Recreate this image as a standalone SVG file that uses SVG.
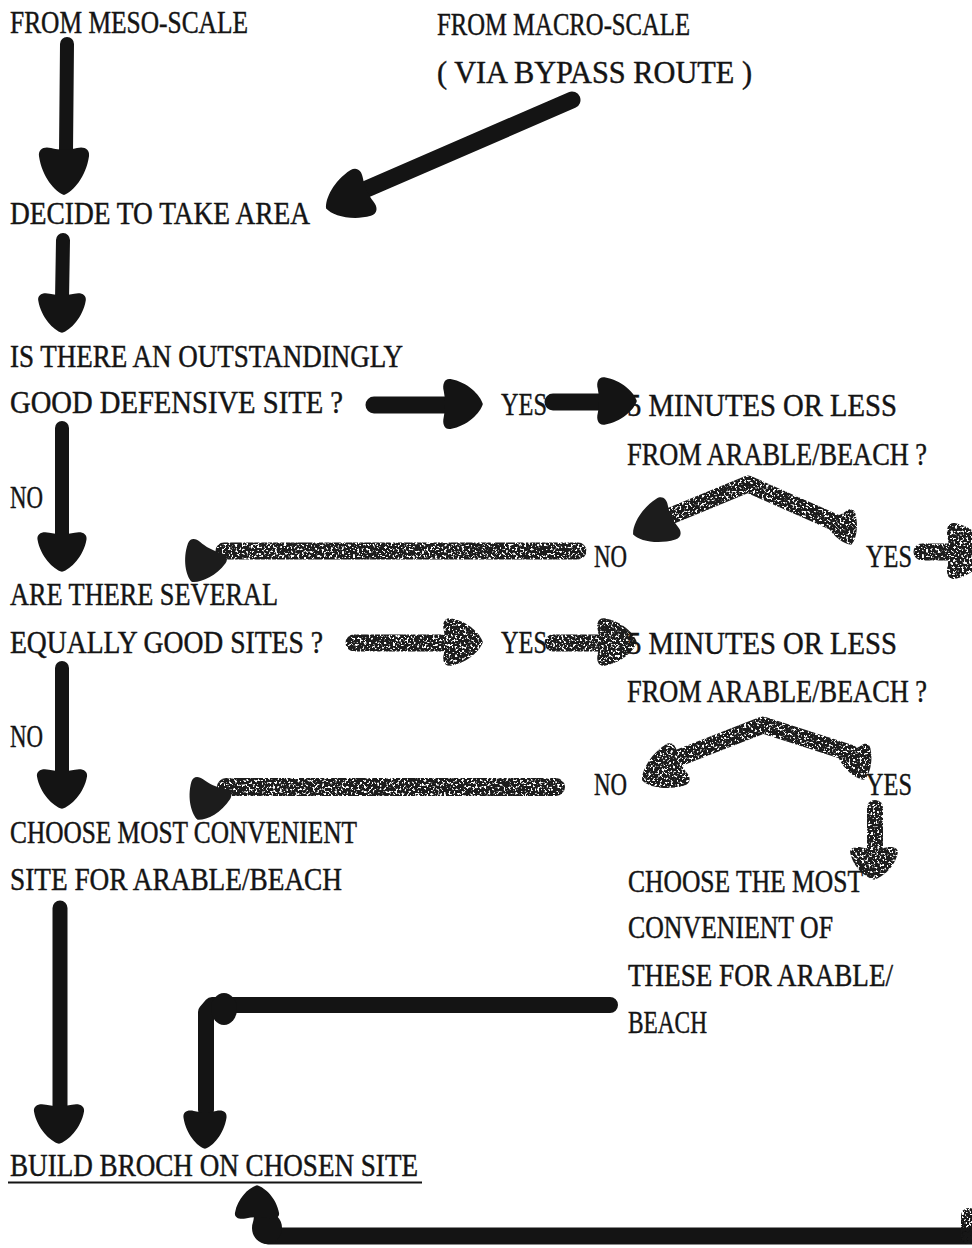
<svg xmlns="http://www.w3.org/2000/svg" width="972" height="1248" viewBox="0 0 972 1248">
  <style>
    .t { font-family: "Liberation Serif", "DejaVu Serif", serif; font-size: 31.5px; fill: #141414; stroke: #141414; stroke-width: 0.45px; }
    .shaft { fill: none; stroke: #141414; stroke-linecap: round; stroke-linejoin: round; }
    .solid { fill: #141414; }
    .grainy .shaft { stroke: #1c1c1c; }
    .grainy .solid { fill: #1c1c1c; }
  </style>
  <defs>
    <!-- marker-pen arrowhead pointing along +x, tip at the origin -->
    <path id="head" d="M 1,0 C -2,-9 -17,-22 -37,-25 C -44,-26 -47,-20 -45,-13 C -43,-5 -43,5 -45,13 C -47,20 -44,26 -37,25 C -17,22 -2,9 1,0 Z"/>
    <!-- speckled, dry-ink texture for the lighter strokes -->
    <filter id="grain" filterUnits="userSpaceOnUse" x="0" y="0" width="972" height="1248">
      <feTurbulence type="fractalNoise" baseFrequency="0.45" numOctaves="2" seed="7" result="noise"/>
      <feColorMatrix in="noise" type="matrix" values="0 0 0 0 0  0 0 0 0 0  0 0 0 0 0  -10 0 0 0 6.5" result="speck"/>
      <feComposite in="SourceGraphic" in2="speck" operator="in"/>
    </filter>
  </defs>

  <rect width="972" height="1248" fill="#ffffff"/>

  <!-- connectors -->
  <g id="connectors">
    <g id="arrow-meso-decide">
      <path class="shaft" stroke-width="14" d="M 67,44 L 66,152"/>
      <use href="#head" class="solid" transform="translate(64,194) rotate(90) scale(1.02,1)"/>
    </g>
    <g id="arrow-macro-decide">
      <path class="shaft" stroke-width="17" d="M 572,100 L 362,191"/>
      <use href="#head" class="solid" transform="translate(327,208) rotate(156)"/>
    </g>
    <g id="arrow-decide-outstanding">
      <path class="shaft" stroke-width="14" d="M 63,240 L 62,300"/>
      <use href="#head" class="solid" transform="translate(62,332) rotate(90) scale(0.85,0.95)"/>
    </g>
    <g id="arrow-defensive-yes">
      <path class="shaft" stroke-width="17" d="M 374,405 L 450,405"/>
      <use href="#head" class="solid" transform="translate(482,404) rotate(0) scale(0.85,1)"/>
    </g>
    <g id="arrow-yes-minutes1">
      <path class="shaft" stroke-width="17" d="M 553,402 L 600,402"/>
      <use href="#head" class="solid" transform="translate(636,401) rotate(0) scale(0.85,0.95)"/>
    </g>
    <g id="arrow-defensive-no">
      <path class="shaft" stroke-width="14" d="M 62,428 L 62,535"/>
      <use href="#head" class="solid" transform="translate(62,571) rotate(90) scale(0.85,0.98)"/>
    </g>
    <g id="arrow-minutes1-branch" class="grainy">
      <g filter="url(#grain)">
        <path class="shaft" stroke-width="17" d="M 668,517 L 748,484 L 836,523"/>
        <use href="#head" class="solid" transform="translate(851,544) rotate(68) scale(0.72,0.62)"/>
      </g>
      <use href="#head" class="solid" transform="translate(634,534) rotate(155) scale(0.95,0.9)"/>
    </g>
    <g id="arrow-no1-several" class="grainy">
      <g filter="url(#grain)">
        <path class="shaft" stroke-width="17" d="M 578,551 L 224,551"/>
      </g>
      <use href="#head" class="solid" transform="translate(192,581) rotate(118) scale(0.85,0.85)"/>
    </g>
    <g id="arrow-yes1-out" class="grainy">
      <g filter="url(#grain)">
        <path class="shaft" stroke-width="17" d="M 922,552 L 955,552"/>
        <use href="#head" class="solid" transform="translate(988,551) rotate(0) scale(0.9,1.12)"/>
      </g>
    </g>
    <g id="arrow-equally-yes" class="grainy">
      <g filter="url(#grain)">
        <path class="shaft" stroke-width="17" d="M 354,643 L 446,643"/>
        <use href="#head" class="solid" transform="translate(482,642) rotate(0) scale(0.85,0.95)"/>
      </g>
    </g>
    <g id="arrow-yes-minutes2" class="grainy">
      <g filter="url(#grain)">
        <path class="shaft" stroke-width="17" d="M 553,643 L 600,643"/>
        <use href="#head" class="solid" transform="translate(636,642) rotate(0) scale(0.85,0.95)"/>
      </g>
    </g>
    <g id="arrow-equally-no">
      <path class="shaft" stroke-width="14" d="M 62,668 L 62,772"/>
      <use href="#head" class="solid" transform="translate(62,808) rotate(90) scale(0.85,1)"/>
    </g>
    <g id="arrow-minutes2-branch" class="grainy">
      <g filter="url(#grain)">
        <path class="shaft" stroke-width="17" d="M 676,759 L 763,725 L 850,753"/>
        <use href="#head" class="solid" transform="translate(864,779) rotate(70) scale(0.72,0.66)"/>
        <use href="#head" class="solid" transform="translate(643,780) rotate(155) scale(0.95,0.9)"/>
      </g>
    </g>
    <g id="arrow-no2-choose" class="grainy">
      <g filter="url(#grain)">
        <path class="shaft" stroke-width="18" d="M 556,787 L 226,787"/>
      </g>
      <use href="#head" class="solid" transform="translate(198,819) rotate(114) scale(0.85,0.85)"/>
    </g>
    <g id="arrow-yes2-choose-the-most" class="grainy">
      <g filter="url(#grain)">
        <path class="shaft" stroke-width="16" d="M 875,808 L 875,850"/>
        <use href="#head" class="solid" transform="translate(874,879) rotate(90) scale(0.7,0.95)"/>
      </g>
    </g>
    <g id="arrow-site-build">
      <path class="shaft" stroke-width="15" d="M 60,908 L 60,1106"/>
      <use href="#head" class="solid" transform="translate(59,1143) rotate(90) scale(0.85,1)"/>
    </g>
    <g id="arrow-these-build">
      <path class="shaft" stroke-width="16" d="M 610,1005 L 212,1005 L 206,1012 L 206,1110"/>
      <ellipse class="solid" cx="224" cy="1009" rx="13" ry="16"/>
      <use href="#head" class="solid" transform="translate(205,1148) rotate(90) scale(0.82,0.86)"/>
    </g>
    <g id="arrow-return-build">
      <path class="shaft" stroke-width="17" d="M 972,1236 L 268,1236 L 262,1230 L 262,1220"/>
      <ellipse class="solid" cx="267" cy="1228" rx="15" ry="16"/>
      <use href="#head" class="solid" transform="translate(257,1186) rotate(-90) scale(0.72,0.88)"/>
      <g filter="url(#grain)">
        <rect class="solid" x="961" y="1208" width="16" height="36" rx="8"/>
      </g>
    </g>
  </g>

  <!-- nodes -->
  <g id="node-meso"><text class="t" x="10" y="33" textLength="238" lengthAdjust="spacingAndGlyphs">FROM MESO-SCALE</text></g>
  <g id="node-macro">
    <text class="t" x="437" y="35" textLength="253" lengthAdjust="spacingAndGlyphs">FROM MACRO-SCALE</text>
    <text class="t" x="437" y="83" textLength="315" lengthAdjust="spacingAndGlyphs">( VIA BYPASS ROUTE )</text>
  </g>
  <g id="node-decide"><text class="t" x="10" y="224" textLength="300" lengthAdjust="spacingAndGlyphs">DECIDE TO TAKE AREA</text></g>
  <g id="node-outstanding">
    <text class="t" x="10" y="367" textLength="393" lengthAdjust="spacingAndGlyphs">IS THERE AN OUTSTANDINGLY</text>
    <text class="t" x="10" y="413" textLength="333" lengthAdjust="spacingAndGlyphs">GOOD DEFENSIVE SITE ?</text>
  </g>
  <g id="label-yes1"><text class="t" x="501" y="415" textLength="46" lengthAdjust="spacingAndGlyphs">YES</text></g>
  <g id="node-minutes1">
    <text class="t" x="627" y="416" textLength="270" lengthAdjust="spacingAndGlyphs">5 MINUTES OR LESS</text>
    <!-- narrow line: set in a horizontally condensed frame so it stays inside the page -->
    <text class="t" transform="translate(627,465) scale(0.8,1)" x="0" y="0" textLength="375" lengthAdjust="spacingAndGlyphs">FROM ARABLE/BEACH ?</text>
  </g>
  <g id="label-no1"><text class="t" x="10" y="508" textLength="33" lengthAdjust="spacingAndGlyphs">NO</text></g>
  <g id="label-no1b"><text class="t" x="594" y="567" textLength="33" lengthAdjust="spacingAndGlyphs">NO</text></g>
  <g id="label-yes1b"><text class="t" x="866" y="567" textLength="46" lengthAdjust="spacingAndGlyphs">YES</text></g>
  <g id="node-several">
    <text class="t" x="10" y="605" textLength="268" lengthAdjust="spacingAndGlyphs">ARE THERE SEVERAL</text>
    <text class="t" x="10" y="653" textLength="313" lengthAdjust="spacingAndGlyphs">EQUALLY GOOD SITES ?</text>
  </g>
  <g id="label-yes2"><text class="t" x="501" y="653" textLength="46" lengthAdjust="spacingAndGlyphs">YES</text></g>
  <g id="node-minutes2">
    <text class="t" x="627" y="654" textLength="270" lengthAdjust="spacingAndGlyphs">5 MINUTES OR LESS</text>
    <text class="t" transform="translate(627,702) scale(0.8,1)" x="0" y="0" textLength="375" lengthAdjust="spacingAndGlyphs">FROM ARABLE/BEACH ?</text>
  </g>
  <g id="label-no2"><text class="t" x="10" y="747" textLength="33" lengthAdjust="spacingAndGlyphs">NO</text></g>
  <g id="label-no2b"><text class="t" x="594" y="795" textLength="33" lengthAdjust="spacingAndGlyphs">NO</text></g>
  <g id="label-yes2b"><text class="t" x="866" y="795" textLength="46" lengthAdjust="spacingAndGlyphs">YES</text></g>
  <g id="node-choose-most">
    <text class="t" x="10" y="843" textLength="347" lengthAdjust="spacingAndGlyphs">CHOOSE MOST CONVENIENT</text>
    <text class="t" x="10" y="890" textLength="332" lengthAdjust="spacingAndGlyphs">SITE FOR ARABLE/BEACH</text>
  </g>
  <g id="node-choose-the-most">
    <text class="t" x="628" y="892" textLength="235" lengthAdjust="spacingAndGlyphs">CHOOSE THE MOST</text>
    <text class="t" x="628" y="938" textLength="205" lengthAdjust="spacingAndGlyphs">CONVENIENT OF</text>
    <text class="t" x="628" y="986" textLength="265" lengthAdjust="spacingAndGlyphs">THESE FOR ARABLE/</text>
    <text class="t" x="628" y="1033" textLength="79" lengthAdjust="spacingAndGlyphs">BEACH</text>
  </g>
  <g id="node-build">
    <text class="t" x="10" y="1176" textLength="408" lengthAdjust="spacingAndGlyphs">BUILD BROCH ON CHOSEN SITE</text>
    <line x1="8" y1="1182.5" x2="422" y2="1182.5" stroke="#141414" stroke-width="1.8"/>
  </g>
</svg>
